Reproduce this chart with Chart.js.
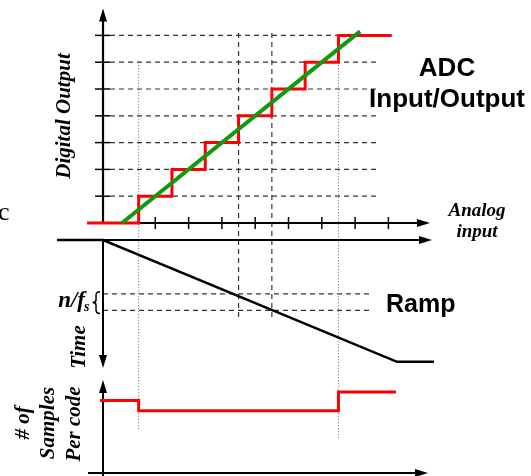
<!DOCTYPE html>
<html><head><meta charset="utf-8">
<script src="https://cdn.jsdelivr.net/npm/chart.js@4.4.1/dist/chart.umd.min.js"></script>
<style>html,body{margin:0;padding:0;background:#fff;}canvas{display:block;}</style>
</head><body>
<canvas id="c" width="531" height="476"></canvas>
<script>
// ---------- data (analog input in LSB, output codes, time in n/fs, samples per code) ----------
const codes = [0, 1, 2, 3, 4, 5, 6, 7];
const codeTransitions = [0.5, 1.5, 2.5, 3.5, 4.5, 5.5, 6.5];
const stairStart = -1.05, stairEnd = 8.1;
const idealInput = [0, 7.15];
const idealOutput = [0, 7.15];
const inputTicks = [1, 2, 3, 4, 5, 6, 7, 8];
const codeTicks = [1, 2, 3, 4, 5, 6, 7];
const rampInput = [-1.95, -0.57, 8.26, 9.37];
const rampTime = [0, 0, 8.83, 8.83];
const nfsTimes = [3.9, 5.1];
const sampleEdges = [-0.66, 0.5, 6.5, 8.23];
const samplesPerCode = [9.3, 8, 10.4];
const dashedInputs = [3.5, 4.5];
const dottedInputs = [0.5, 6.5];

// ---------- build series ----------
const stair = [{x: stairStart, y: codes[0]}];
codeTransitions.forEach((t, i) => { stair.push({x: t, y: codes[i]}); stair.push({x: t, y: codes[i + 1]}); });
stair.push({x: stairEnd, y: codes[codes.length - 1]});
const ideal = idealInput.map((v, i) => ({x: v, y: idealOutput[i]}));
const ramp = rampInput.map((v, i) => ({x: v, y: rampTime[i]}));
const samples = [];
samplesPerCode.forEach((n, i) => { samples.push({x: sampleEdges[i], y: n}); samples.push({x: sampleEdges[i + 1], y: n}); });

// ---------- scale layout ----------
const W = 531, H = 476;
function rangeX(p0, k) { const min = -p0 / k; return {min, max: min + W / k}; }
function rangeUp(p0, k) { const min = (p0 - H) / k; return {min, max: min + H / k}; }
function rangeDown(p0, k) { const min = -p0 / k; return {min, max: min + H / k}; }
const rx = rangeX(122, 33.3), rc = rangeUp(223, 26.8), rt = rangeDown(240, 13.8), rs = rangeUp(473, 7.79);
const AXIS_U = -0.57;

const ink = {
  id: 'ink',
  beforeDatasetsDraw(chart) {
    const ctx = chart.ctx, s = chart.scales;
    const X = v => s.x.getPixelForValue(v), YC = v => s.yc.getPixelForValue(v),
          YT = v => s.yt.getPixelForValue(v), YS = v => s.ys.getPixelForValue(v);
    function line(x1, y1, x2, y2, w, col, dash) {
      ctx.save(); ctx.beginPath(); ctx.lineWidth = w; ctx.strokeStyle = col;
      ctx.setLineDash(dash || []); ctx.moveTo(x1, y1); ctx.lineTo(x2, y2); ctx.stroke(); ctx.restore();
    }
    function arrow(x, y, dir) {
      ctx.save(); ctx.fillStyle = '#000'; ctx.beginPath();
      const L = 13, h = 4;
      if (dir === 'up') { ctx.moveTo(x, y); ctx.lineTo(x - h, y + L); ctx.lineTo(x + h, y + L); }
      if (dir === 'down') { ctx.moveTo(x, y); ctx.lineTo(x - h, y - L); ctx.lineTo(x + h, y - L); }
      if (dir === 'right') { ctx.moveTo(x, y); ctx.lineTo(x - L, y - h); ctx.lineTo(x - L, y + h); }
      ctx.closePath(); ctx.fill(); ctx.restore();
    }
    const ax = X(AXIS_U);
    const dash = [5, 4], dot = [1, 2];
    codeTicks.forEach(c => {
      line(X(-0.36), YC(c), X(7.66), YC(c), 1.2, '#333', dash);
      line(X(-0.81), YC(c), X(-0.36), YC(c), 1.5, '#000');
    });
    nfsTimes.forEach(t => line(ax, YT(t), X(7.45), YT(t), 1.2, '#333', dash));
    dashedInputs.forEach(u => line(X(u), YC(7.09), X(u), YT(5.58), 1.2, '#333', dash));
    line(X(dottedInputs[0]), YC(6), X(dottedInputs[0]), YS(5.5), 1, '#666', dot);
    line(X(dottedInputs[1]), YC(6), X(dottedInputs[1]), YS(4.5), 1, '#666', dot);
    line(ax, YC(-0.03), ax, YC(7.6), 2.2, '#000'); arrow(ax, YC(8.0), 'up');
    line(X(-1.05), YC(0), X(8.9), YC(0), 2, '#000'); arrow(X(9.25), YC(0), 'right');
    inputTicks.forEach(u => line(X(u), YC(0) - 6, X(u), YC(0) + 6, 1.5, '#000'));
    line(X(-1.11), YT(0), X(8.95), YT(0), 2, '#000'); arrow(X(9.31), YT(0), 'right');
    line(ax, YT(0), ax, YT(8.5), 2, '#000'); arrow(ax, YT(9.28), 'down');
    line(ax, YS(-0.5), ax, YS(11.0), 2, '#000'); arrow(ax, YS(11.94), 'up');
    line(X(-1.02), YS(0), X(8.8), YS(0), 2, '#000'); arrow(X(9.19), YS(0), 'right');
    // brace spanning the n/f_s interval
    const y1 = YT(nfsTimes[0]) - 2, y2 = YT(nfsTimes[1]) + 3, ym = (y1 + y2) / 2, bx = ax - 7;
    ctx.save(); ctx.beginPath(); ctx.lineWidth = 1.5; ctx.strokeStyle = '#000';
    ctx.moveTo(bx + 4, y1);
    ctx.quadraticCurveTo(bx, y1, bx, y1 + 3.5);
    ctx.lineTo(bx, ym - 2.5);
    ctx.quadraticCurveTo(bx, ym, bx - 3.5, ym);
    ctx.quadraticCurveTo(bx, ym, bx, ym + 2.5);
    ctx.lineTo(bx, y2 - 3.5);
    ctx.quadraticCurveTo(bx, y2, bx + 4, y2);
    ctx.stroke(); ctx.restore();
  },
  afterDraw(chart) {
    const ctx = chart.ctx;
    ctx.save(); ctx.fillStyle = '#000';
    const serif = 'bold italic 21px "Liberation Serif", "DejaVu Serif", serif';
    function rot(text, x, y, font) {
      ctx.save(); ctx.translate(x, y); ctx.rotate(-Math.PI / 2); ctx.font = font;
      ctx.textAlign = 'center'; ctx.textBaseline = 'alphabetic'; ctx.fillText(text, 0, 0); ctx.restore();
    }
    rot('Digital Output', 70, 116, serif);
    rot('Time', 85, 347, serif);
    rot('# of', 29, 423, serif);
    rot('Samples', 54, 423, serif);
    rot('Per code', 80, 424, serif);
    ctx.font = 'bold italic 19px "Liberation Serif", serif'; ctx.textAlign = 'center';
    ctx.fillText('Analog', 477, 216);
    ctx.fillText('input', 477, 237);
    ctx.font = 'bold 26px "Liberation Sans", Arial, sans-serif';
    ctx.fillText('ADC', 447, 76);
    ctx.fillText('Input/Output', 447, 107);
    ctx.font = 'bold 25px "Liberation Sans", Arial, sans-serif';
    ctx.textAlign = 'left';
    ctx.fillText('Ramp', 386, 312);
    ctx.font = 'bold italic 23px "Liberation Serif", serif'; ctx.textAlign = 'right';
    ctx.fillText('n/f', 85, 307);
    ctx.font = 'bold italic 14px "Liberation Serif", serif'; ctx.textAlign = 'left';
    ctx.fillText('s', 84, 311);
    ctx.font = '26px "Liberation Serif", serif';
    ctx.fillText('c', -2, 220);
    ctx.restore();
  }
};

new Chart(document.getElementById('c'), {
  type: 'line',
  data: {
    datasets: [
      {label: 'Ideal', data: ideal, borderColor: '#119911', borderWidth: 4, yAxisID: 'yc', borderCapStyle: 'butt'},
      {label: 'ADC output', data: stair, borderColor: '#ff0000', borderWidth: 3, yAxisID: 'yc', borderJoinStyle: 'miter'},
      {label: 'Ramp', data: ramp, borderColor: '#000', borderWidth: 2.5, yAxisID: 'yt'},
      {label: 'Samples per code', data: samples, borderColor: '#ff0000', borderWidth: 3, yAxisID: 'ys', borderJoinStyle: 'miter'}
    ]
  },
  options: {
    responsive: false, animation: false, devicePixelRatio: 1,
    layout: {padding: 0},
    elements: {point: {radius: 0}, line: {tension: 0, fill: false}},
    plugins: {legend: {display: false}, tooltip: {enabled: false}},
    scales: {
      x: {type: 'linear', display: false, min: rx.min, max: rx.max},
      yc: {type: 'linear', display: false, min: rc.min, max: rc.max},
      yt: {type: 'linear', display: false, reverse: true, min: rt.min, max: rt.max},
      ys: {type: 'linear', display: false, min: rs.min, max: rs.max}
    }
  },
  plugins: [ink]
});
</script>
</body></html>
